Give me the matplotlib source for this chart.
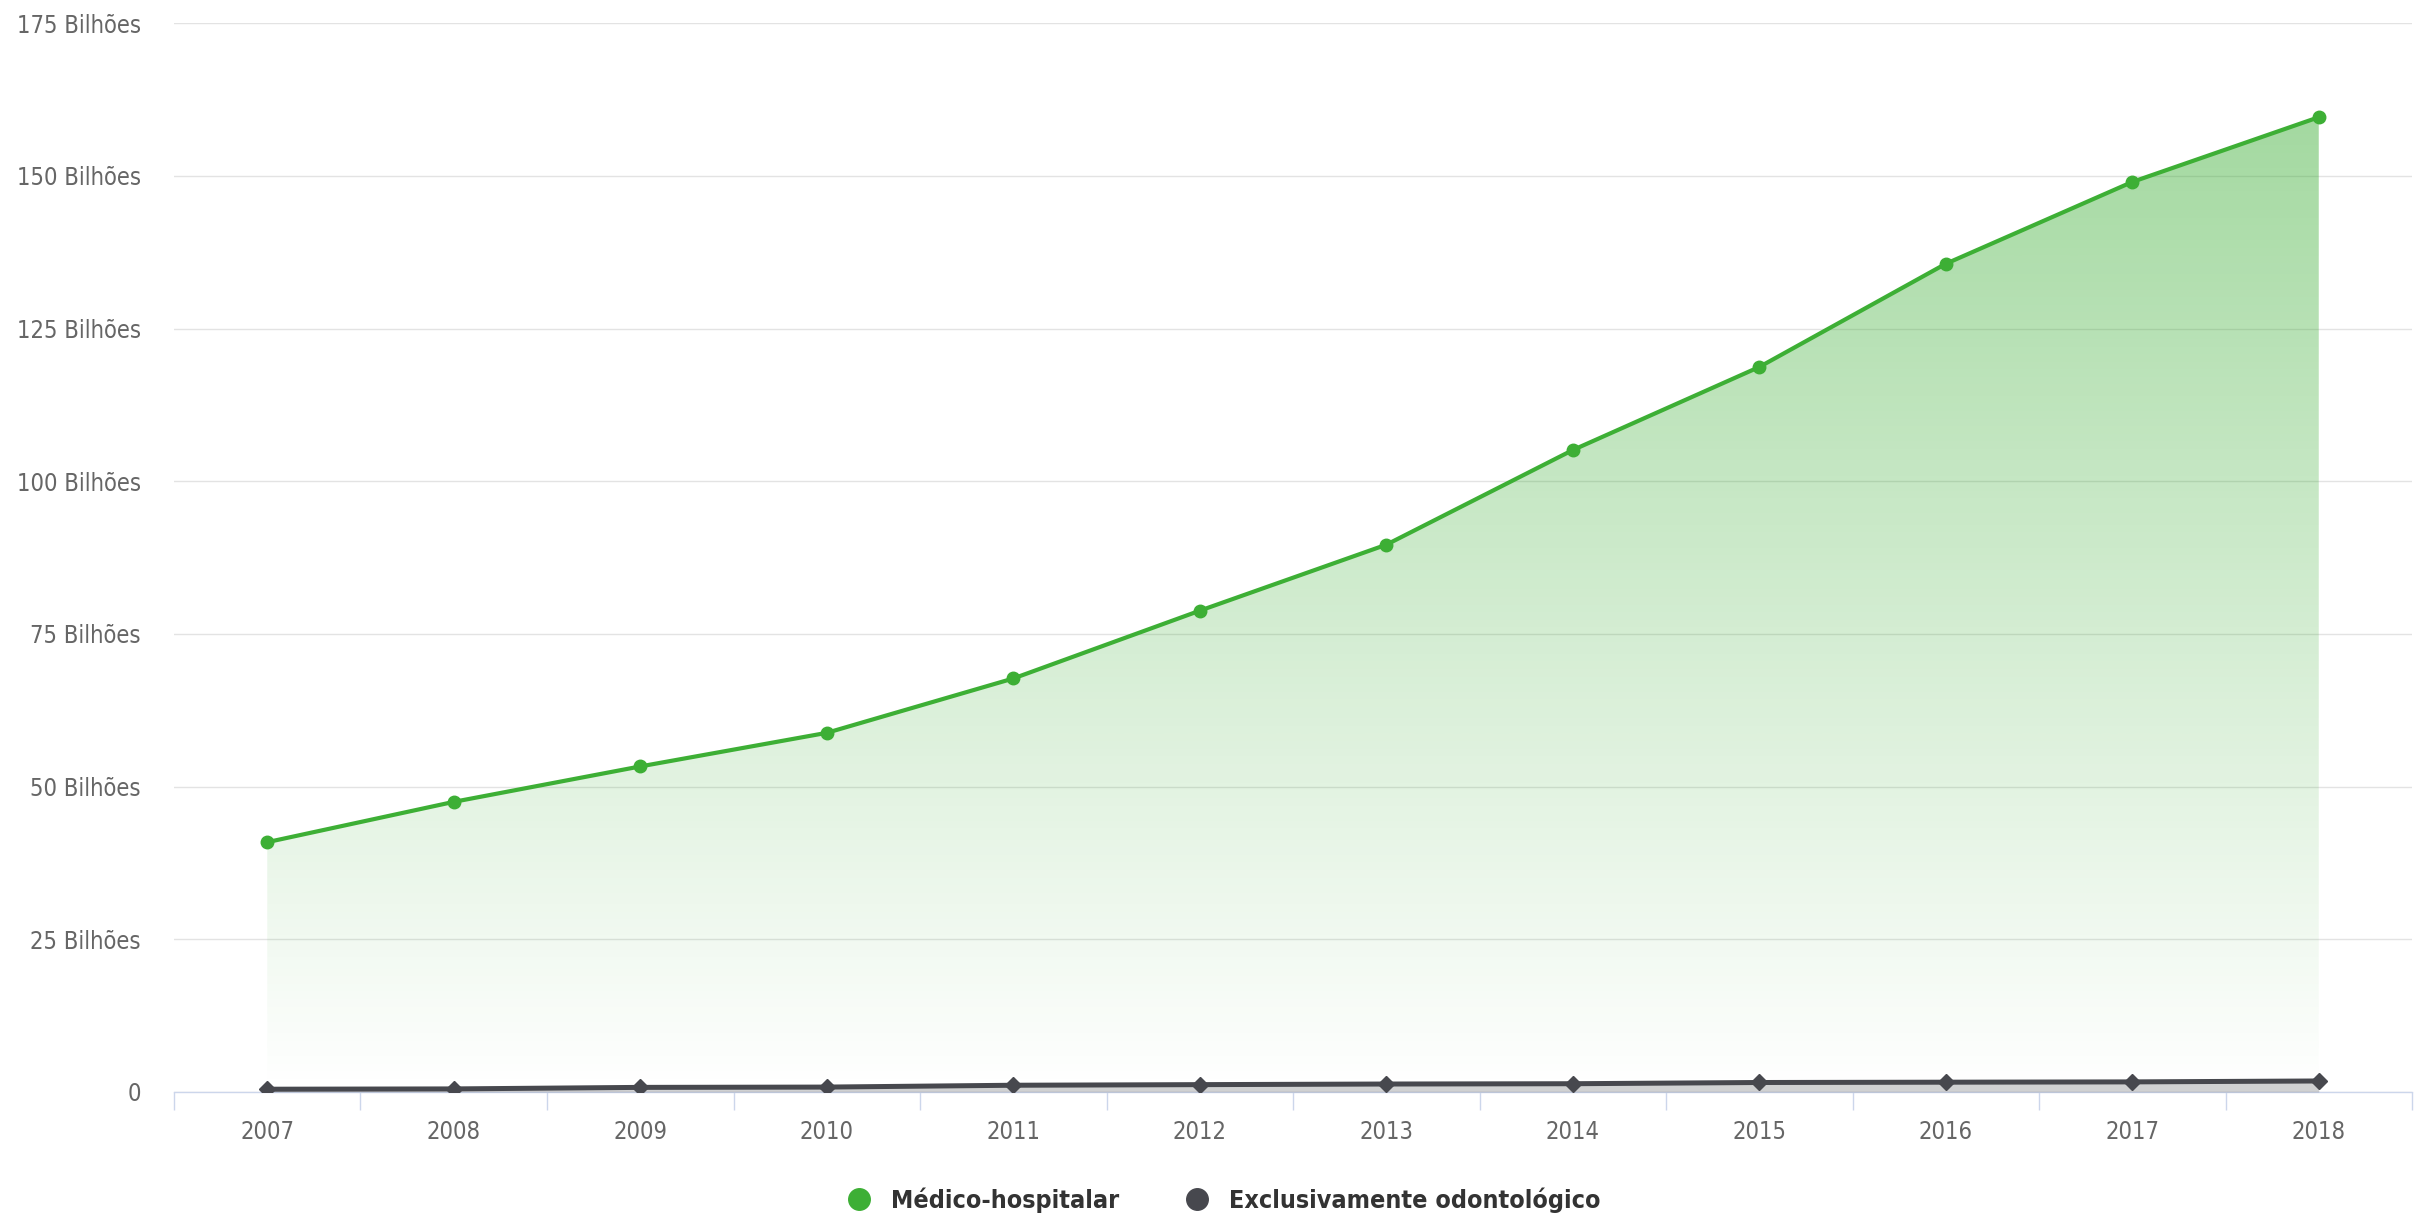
import matplotlib
matplotlib.use("Agg")
import matplotlib.pyplot as plt
import numpy as np
from matplotlib.lines import Line2D
from matplotlib.colors import LinearSegmentedColormap

years = ["2007", "2008", "2009", "2010", "2011", "2012", "2013", "2014", "2015", "2016", "2017", "2018"]
medico_hospitalar = [40.9, 47.5, 53.3, 58.8, 67.7, 78.8, 89.6, 105.1, 118.7, 135.6, 149.0, 159.6]
odontologico = [0.45, 0.5, 0.75, 0.8, 1.1, 1.2, 1.3, 1.35, 1.55, 1.6, 1.65, 1.8]
y_ticks = [0, 25, 50, 75, 100, 125, 150, 175]
y_labels = ["0", "25 Bilhões", "50 Bilhões", "75 Bilhões", "100 Bilhões", "125 Bilhões",
            "150 Bilhões", "175 Bilhões"]
series_names = ["Médico-hospitalar", "Exclusivamente odontológico"]

GREEN = "#3DAF35"
DARK = "#47484E"
FONT = ["DejaVu Sans"]
plt.rcParams["font.family"] = FONT
plt.rcParams["font.stretch"] = "condensed"

fig = plt.figure(figsize=(24.2, 12.25), dpi=100)
ax = fig.add_axes([0.0719, 0.1086, 0.9248, 0.8725])

x = np.arange(len(years))
ax.set_xlim(-0.5, len(years) - 0.5)
ax.set_ylim(0, 175)

# gradient fill under green series
ymax = max(medico_hospitalar)
poly = ax.fill_between(x, medico_hospitalar, 0, color="none", lw=0)
grad = np.linspace(0, 1, 256).reshape(-1, 1)
cmap = LinearSegmentedColormap.from_list(
    "g", [(0.239, 0.686, 0.208, 0.0), (0.239, 0.686, 0.208, 0.47)])
im = ax.imshow(grad, cmap=cmap, aspect="auto", origin="lower",
               extent=[x[0], x[-1], 0, ymax], zorder=1, interpolation="bicubic",
               vmin=0, vmax=1)
path = poly.get_paths()[0]
im.set_clip_path(path, transform=ax.transData)
ax.set_xlim(-0.5, len(years) - 0.5)
ax.set_ylim(0, 175)

ax.fill_between(x, odontologico, 0, color=DARK, alpha=0.25, lw=0, zorder=2)

ax.plot(x, medico_hospitalar, color=GREEN, lw=3.0, marker="o", markersize=9, zorder=4,
        solid_capstyle="round")
ax.plot(x, odontologico, color=DARK, lw=3.6, marker="D", markersize=8, zorder=4)

# grid
ax.set_yticks(y_ticks)
ax.set_yticklabels(y_labels)
ax.yaxis.grid(True, color="#e3e3e3", lw=1.0)
ax.set_axisbelow(True)
ax.tick_params(axis="y", length=0, pad=24, labelsize=17, labelcolor="#666666")

ax.set_xticks(x)
ax.set_xticklabels(years)
ax.set_xticks(np.arange(-0.5, len(years)), minor=True)
ax.tick_params(axis="x", which="major", length=0, pad=20, labelsize=17, labelcolor="#666666")
ax.tick_params(axis="x", which="minor", length=13, width=1.0, color="#ccd6eb")

for s in ["top", "right", "left"]:
    ax.spines[s].set_visible(False)
ax.spines["bottom"].set_color("#ccd6eb")
ax.spines["bottom"].set_linewidth(1.0)
ax.spines["bottom"].set_zorder(0.5)

handles = [Line2D([], [], ls="none", marker="o", markersize=15.5, color=GREEN),
           Line2D([], [], ls="none", marker="o", markersize=15.5, color=DARK)]
leg = fig.legend(handles, series_names, loc="center", bbox_to_anchor=(0.503, 0.0204),
                 ncol=2, frameon=False, handletextpad=0.3, columnspacing=2.1,
                 prop={"family": FONT, "weight": "bold", "size": 18, "stretch": "condensed"})
for t in leg.get_texts():
    t.set_color("#333333")

fig.savefig("out.png", dpi=100, facecolor="white")
